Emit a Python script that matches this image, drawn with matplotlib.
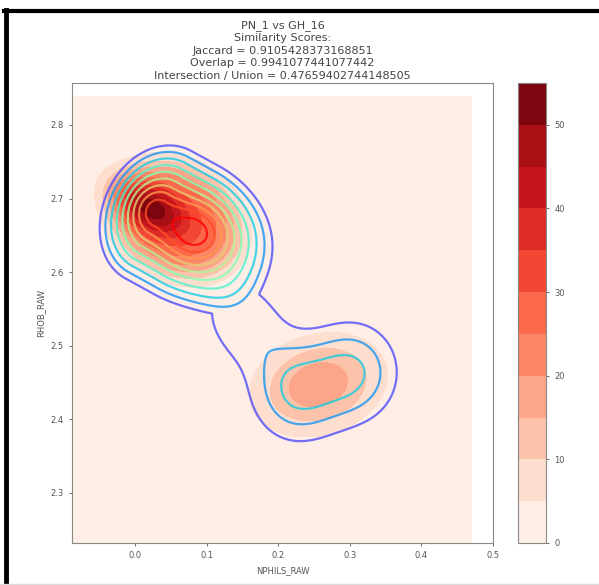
import numpy as np
import matplotlib
matplotlib.use("Agg")
import matplotlib.pyplot as plt
from matplotlib.lines import Line2D

# ---------------- data ----------------
title_lines = ["PN_1 vs GH_16", "Similarity Scores:",
               "Jaccard = 0.9105428373168851",
               "Overlap = 0.9941077441077442",
               "Intersection / Union = 0.47659402744148505"]
x_label = "NPHILS_RAW"
y_label = "RHOB_RAW"
fill_levels = [0, 5, 10, 15, 20, 25, 30, 35, 40, 45, 50, 55]
line_levels = [5, 10, 15, 20, 25, 30, 35, 40, 45, 50]
x_ticks = [0.0, 0.1, 0.2, 0.3, 0.4, 0.5]
y_ticks = [2.3, 2.4, 2.5, 2.6, 2.7, 2.8]
cbar_ticks = [0, 10, 20, 30, 40, 50]

# density-grid extents
fill_xrange = [-0.088, 0.47]
fill_yrange = [2.232, 2.839]
line_xrange = [-0.088, 0.50]
line_yrange = [2.232, 2.857]

# PN_1 density (filled): gaussian bumps
pn_g_amp = [27.0, 19.0]
pn_g_cx = [0.020, 0.256]
pn_g_cy = [2.688, 2.447]
pn_g_sa = [0.038, 0.060]
pn_g_sb = [0.022, 0.042]
pn_g_ang = [-28.0, 15.0]
# PN_1 density: soft-edged plateaus
pn_p_amp = [28.0]
pn_p_cx = [0.058]
pn_p_cy = [2.671]
pn_p_sa = [0.086]
pn_p_sb = [0.067]
pn_p_ang = [-28.0]
pn_p_edge = [0.18]

# GH_16 density (lines): gaussian bumps
gh_g_amp = [4.0, 10.0, 15.3, 15.3, 9.0]
gh_g_cx = [0.018, 0.087, 0.226, 0.304, 0.153]
gh_g_cy = [2.689, 2.652, 2.438, 2.464, 2.532]
gh_g_sa = [0.020, 0.030, 0.041, 0.041, 0.050]
gh_g_sb = [0.020, 0.025, 0.044, 0.044, 0.037]
gh_g_ang = [0.0, -15.0, 0.0, 0.0, -55.0]
# GH_16 density: rounded ridge cone for the upper-left cluster
gh_c_amp = [45.0]
gh_c_cx = [0.053]
gh_c_cy = [2.670]
gh_c_half = [0.022]
gh_c_ang = [-28.0]
gh_c_aneg = [0.063]
gh_c_apos = [0.102]
gh_c_bneg = [0.082]
gh_c_bpos = [0.078]
gh_c_round = [0.40]


def _uv(X, Y, x0, y0, th):
    t = np.deg2rad(th)
    dx, dy = X - x0, Y - y0
    return dx * np.cos(t) + dy * np.sin(t), -dx * np.sin(t) + dy * np.cos(t)


def gauss(X, Y, amp, cx, cy, sa, sb, ang):
    Z = np.zeros_like(X)
    for a, x0, y0, s1, s2, th in zip(amp, cx, cy, sa, sb, ang):
        u, v = _uv(X, Y, x0, y0, th)
        Z += a * np.exp(-0.5 * ((u / s1) ** 2 + (v / s2) ** 2))
    return Z


def plateau(X, Y, amp, cx, cy, sa, sb, ang, edge):
    Z = np.zeros_like(X)
    for a, x0, y0, s1, s2, th, w in zip(amp, cx, cy, sa, sb, ang, edge):
        u, v = _uv(X, Y, x0, y0, th)
        d = np.sqrt((u / s1) ** 2 + (v / s2) ** 2)
        Z += a / (1.0 + np.exp(np.clip((d - 1.0) / w, -50, 50)))
    return Z


def ridge(X, Y, amp, cx, cy, half, ang, aneg, apos, bneg, bpos, rnd):
    Z = np.zeros_like(X)
    for a, x0, y0, h, th, an, ap, bn, bp, e in zip(amp, cx, cy, half, ang,
                                                    aneg, apos, bneg, bpos, rnd):
        u, v = _uv(X, Y, x0, y0, th)
        du = np.where(u > h, (u - h) / ap, np.where(u < -h, (-u - h) / an, 0.0))
        dv = np.where(v > 0, v / bp, -v / bn)
        d = np.sqrt(du ** 2 + dv ** 2)
        ds = np.sqrt(d ** 2 + e ** 2) - e
        Z += a * np.clip(1.0 - ds, 0.0, None)
    return Z


xf = np.linspace(*fill_xrange, 400)
yf = np.linspace(*fill_yrange, 400)
XF, YF = np.meshgrid(xf, yf)
ZF = (gauss(XF, YF, pn_g_amp, pn_g_cx, pn_g_cy, pn_g_sa, pn_g_sb, pn_g_ang)
      + plateau(XF, YF, pn_p_amp, pn_p_cx, pn_p_cy, pn_p_sa, pn_p_sb,
                pn_p_ang, pn_p_edge))

xl = np.linspace(*line_xrange, 400)
yl = np.linspace(*line_yrange, 400)
XL, YL = np.meshgrid(xl, yl)
ZL = (gauss(XL, YL, gh_g_amp, gh_g_cx, gh_g_cy, gh_g_sa, gh_g_sb, gh_g_ang)
      + ridge(XL, YL, gh_c_amp, gh_c_cx, gh_c_cy, gh_c_half, gh_c_ang,
              gh_c_aneg, gh_c_apos, gh_c_bneg, gh_c_bpos, gh_c_round))

# ---------------- figure ----------------
fig = plt.figure(figsize=(5.99, 5.85), dpi=100)
ax = fig.add_axes([72 / 599, 1 - 543 / 585, (493 - 72) / 599, (543 - 83) / 585])
cax = fig.add_axes([518 / 599, 1 - 543 / 585, (546 - 518) / 599, (543 - 83) / 585])

cf = ax.contourf(XF, YF, ZF, levels=fill_levels, cmap="Reds")
line_cols = plt.get_cmap("rainbow")(np.array(line_levels) / line_levels[-1])
ax.contour(XL, YL, ZL, levels=line_levels, colors=line_cols,
           linewidths=1.6, alpha=0.8)

ax.set_xlim(line_xrange)
ax.set_ylim(line_yrange)
ax.set_xticks(x_ticks)
ax.set_yticks(y_ticks)
ax.tick_params(labelsize=6, colors="#555555", length=2.5, width=0.6)
ax.set_xlabel(x_label, fontsize=6, color="#555555")
ax.set_ylabel(y_label, fontsize=6, color="#555555")
for s in ax.spines.values():
    s.set_color("#888888")
    s.set_linewidth(0.8)
ax.set_title("\n".join(title_lines), fontsize=8, color="#444444",
             linespacing=1.32, pad=3)

cb = fig.colorbar(cf, cax=cax, ticks=cbar_ticks)
cb.ax.tick_params(labelsize=6, colors="#555555", length=2.5, width=0.6)
cb.outline.set_edgecolor("#888888")
cb.outline.set_linewidth(0.8)

# screenshot frame
fig.add_artist(Line2D([4 / 599, 1], [1 - 11 / 585, 1 - 11 / 585],
                      transform=fig.transFigure, color="black", lw=3))
fig.add_artist(Line2D([5.5 / 599, 5.5 / 599], [0, 1 - 9.5 / 585],
                      transform=fig.transFigure, color="black", lw=3.5))
fig.add_artist(Line2D([0, 1], [1.5 / 585, 1.5 / 585],
                      transform=fig.transFigure, color="#dddddd", lw=1))

fig.savefig("out.png", dpi=100)
